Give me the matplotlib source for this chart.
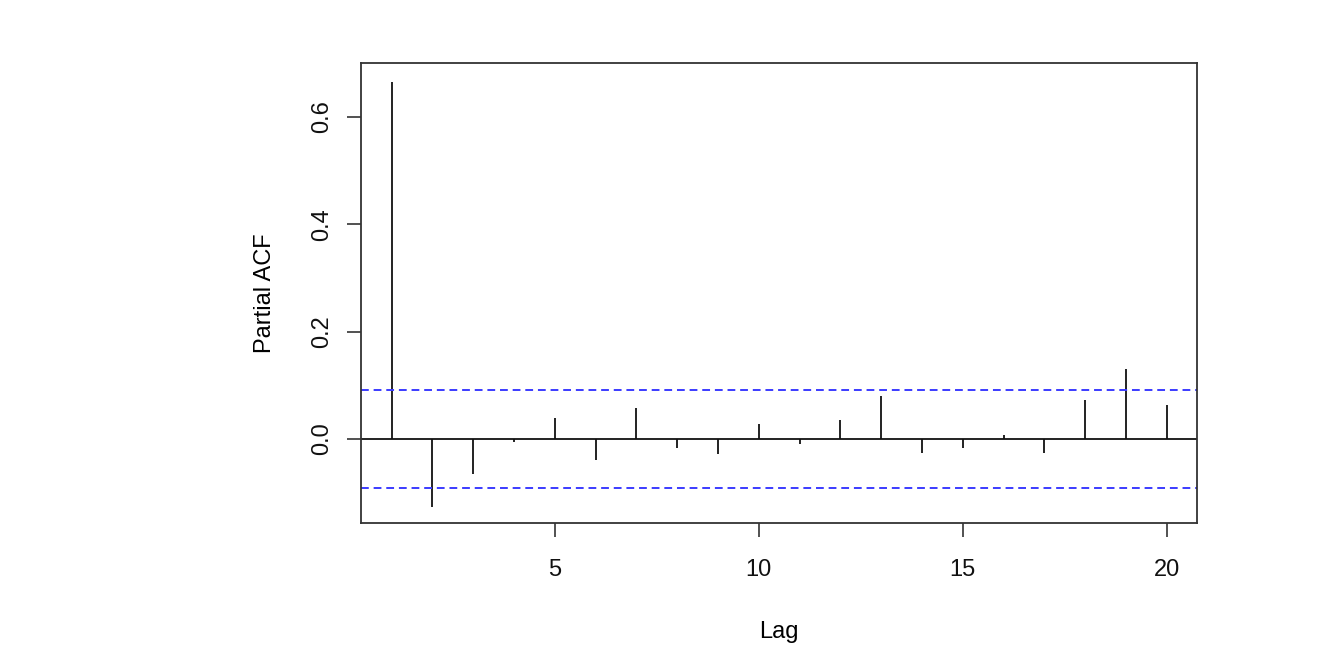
import numpy as np
import matplotlib
matplotlib.use("Agg")
import matplotlib.pyplot as plt

plt.rcParams['font.family'] = ['Liberation Sans', 'DejaVu Sans']

lags = list(range(1, 21))
pacf = [0.666, -0.126, -0.065, -0.006, 0.039, -0.039, 0.057, -0.017, -0.027, 0.028,
        -0.010, 0.036, 0.081, -0.026, -0.016, 0.007, -0.026, 0.072, 0.131, 0.063]
ci = 0.0904


def main():
	fig = plt.figure(figsize=(13.36, 6.66), dpi=100)
	ax = fig.add_axes([0.2702, 0.2147, 0.6257, 0.6907])

	ax.vlines(lags, 0, pacf, color='#111111', linewidth=1.3)
	ax.axhline(0, color='#111111', linewidth=1.3)
	ax.axhline(ci, color='#3b3bff', linewidth=1.4, linestyle=(0, (4, 2.5)))
	ax.axhline(-ci, color='#3b3bff', linewidth=1.4, linestyle=(0, (4, 2.5)))

	ax.set_xlim(0.25, 20.74)
	ax.set_ylim(-0.1565, 0.7006)
	ax.set_xticks([5, 10, 15, 20])
	ax.set_yticks([0.0, 0.2, 0.4, 0.6])
	ax.set_yticklabels(['0.0', '0.2', '0.4', '0.6'], rotation=90, va='center')
	ax.tick_params(direction='out', length=10, width=1.2, labelsize=17, colors='#333333',
	               labelcolor='#111111')
	ax.tick_params(axis='x', pad=16)
	ax.tick_params(axis='y', pad=10)
	for s in ax.spines.values():
		s.set_linewidth(1.3)
		s.set_color('#333333')

	ax.set_xlabel('Lag', fontsize=17, labelpad=29)
	ax.set_ylabel('Partial ACF', fontsize=17, labelpad=25)

	fig.savefig('out.png', dpi=100)


if __name__ == '__main__':
	main()
